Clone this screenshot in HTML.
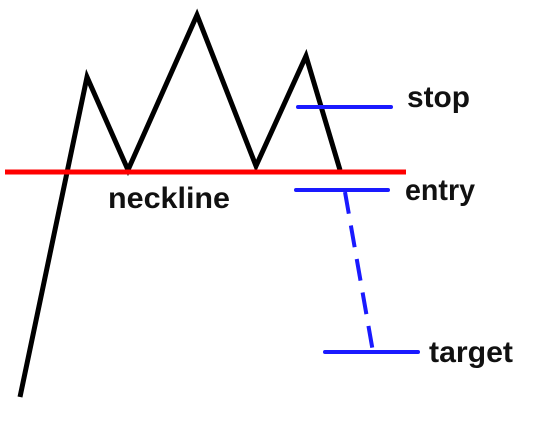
<!DOCTYPE html>
<html><head><style>html,body{margin:0;padding:0;background:#fff;}</style></head>
<body>
<svg width="534" height="418" xmlns="http://www.w3.org/2000/svg">
<rect width="534" height="418" fill="#fff"/>
<polyline points="20,397 87,77 128,170 197,15 256,166 306,56 340,170" fill="none" stroke="#000" stroke-width="5" stroke-linejoin="miter"/>
<line x1="5" y1="172" x2="406" y2="172" stroke="#ff0000" stroke-width="5"/>
<g stroke="#1a1aff" stroke-width="4" stroke-linecap="round">
<line x1="298" y1="107" x2="391" y2="107"/>
<line x1="296" y1="190" x2="388" y2="190"/>
<line x1="325" y1="352" x2="418" y2="352"/>
<line x1="345" y1="192" x2="373" y2="352" stroke-dasharray="22,12" stroke-linecap="butt"/>
</g>
<g font-family="Liberation Sans, Arial, sans-serif" font-weight="bold" font-size="30" fill="#111">
<text x="407" y="107" textLength="63" lengthAdjust="spacingAndGlyphs">stop</text>
<text x="405" y="200" textLength="70" lengthAdjust="spacingAndGlyphs">entry</text>
<text x="108" y="208" textLength="122" lengthAdjust="spacingAndGlyphs">neckline</text>
<text x="429" y="362" textLength="84" lengthAdjust="spacingAndGlyphs">target</text>
</g>
</svg>
</body></html>
